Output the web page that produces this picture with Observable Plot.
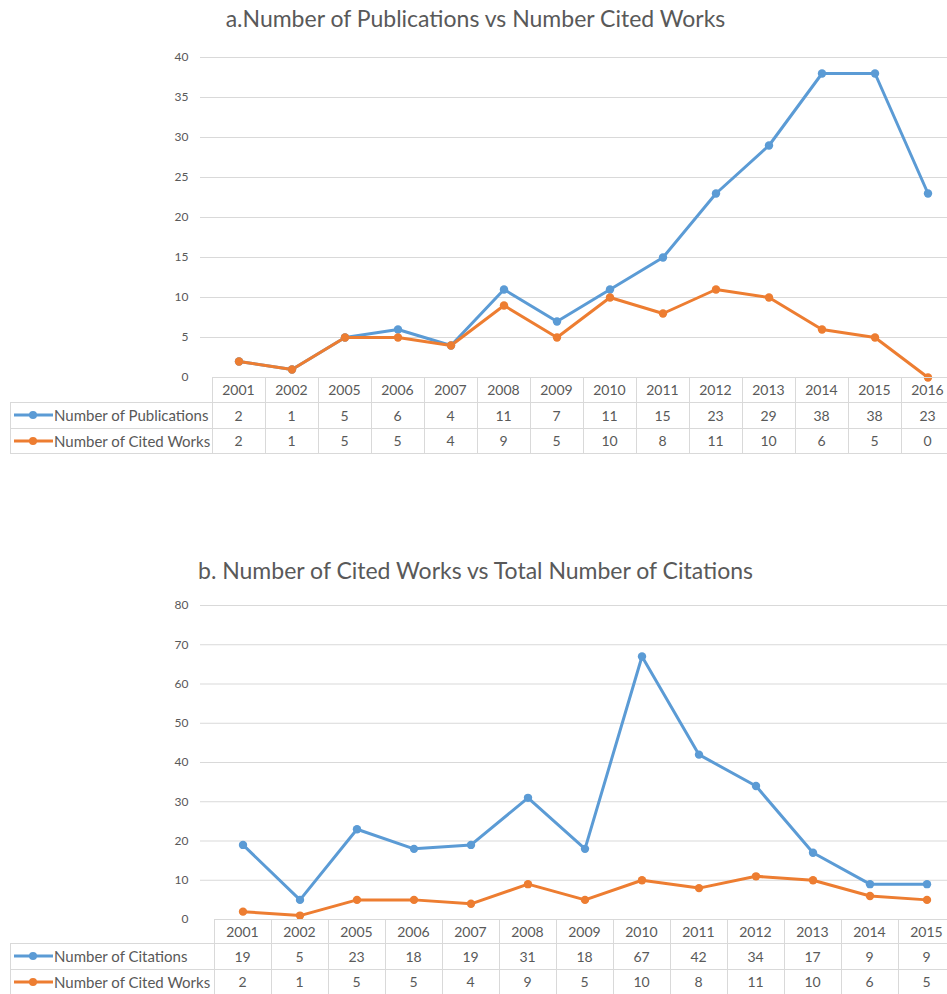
<!DOCTYPE html>
<html><head><meta charset="utf-8">
<script src="https://cdn.jsdelivr.net/npm/d3@7"></script>
<script src="https://cdn.jsdelivr.net/npm/@observablehq/plot@0.6"></script>
<style>
html,body{margin:0;padding:0;overflow:hidden;background:#fff;width:947px;height:994px}
#root{position:relative;width:947px;height:994px;font-family:Lato,"Open Sans",sans-serif;color:#595959}
.title{position:absolute;left:0;width:951px;text-align:center;font-size:23px;white-space:nowrap;line-height:26px}
.cell{position:absolute;font-size:14px;display:flex;align-items:center;justify-content:center;white-space:nowrap}
.lab{justify-content:flex-start;font-size:15px}
.hl{position:absolute;height:1px;background:#d9d9d9}
.vl{position:absolute;width:1px;background:#d9d9d9}
.chart{position:absolute;left:0}
</style></head><body><div id="root"></div><script>
// ---- data ----
const yearsA = ["2001","2002","2005","2006","2007","2008","2009","2010","2011","2012","2013","2014","2015","2016"];
const publicationsA = [2,1,5,6,4,11,7,11,15,23,29,38,38,23];
const citedWorksA = [2,1,5,5,4,9,5,10,8,11,10,6,5,0];
const yTicksA = [0,5,10,15,20,25,30,35,40];

const yearsB = ["2001","2002","2005","2006","2007","2008","2009","2010","2011","2012","2013","2014","2015"];
const citationsB = [19,5,23,18,19,31,18,67,42,34,17,9,9];
const citedWorksB = [2,1,5,5,4,9,5,10,8,11,10,6,5];
const yTicksB = [0,10,20,30,40,50,60,70,80];

const titleA = "a.Number of Publications vs Number Cited Works";
const titleB = "b. Number of Cited Works vs Total Number of Citations";
const seriesPub = "Number of Publications";
const seriesCit = "Number of Citations";
const seriesCited = "Number of Cited Works";
const BLUE = "#5b9bd5", ORANGE = "#ed7d31";

const root = document.getElementById("root");

function toRows(years, name, vals){ return years.map((y,i)=>({year:y, series:name, value:vals[i]})); }

function makeChart({top, years, series, ticks, yRange, title, titleTop, table}){
  const data = series.flatMap(s => toRows(years, s.name, s.values));
  const H = 460;
  const plot = Plot.plot({
    width: 947, height: H,
    marginLeft: 200, marginRight: 0, marginTop: yRange[1], marginBottom: H - yRange[0],
    style: {fontFamily: "Lato, 'Open Sans', sans-serif", fontSize: "12px", color: "#595959", background: "transparent", overflow: "visible"},
    x: {type: "band", domain: years, range: [table.x0, table.x0 + table.colW * years.length], padding: 0, axis: null},
    y: {domain: [ticks[0], ticks[ticks.length-1]], range: yRange},
    color: {domain: series.map(s=>s.name), range: series.map(s=>s.color)},
    marks: [
      Plot.gridY(ticks.slice(1), {stroke: "#d9d9d9", strokeOpacity: 1, strokeWidth: 1}),
      Plot.axisY(ticks, {tickSize: 0, tickPadding: 12, label: null, fill: "#595959", fontSize: 12}),
      Plot.line(data, {x: "year", y: "value", z: "series", stroke: "series", strokeWidth: 3, strokeLinejoin: "round", strokeLinecap: "round"}),
      Plot.dot(data, {x: "year", y: "value", fill: "series", r: 4.2})
    ]
  });
  const wrap = document.createElement("div");
  wrap.className = "chart";
  wrap.style.top = top + "px";
  wrap.appendChild(plot);
  root.appendChild(wrap);

  const t = document.createElement("div");
  t.className = "title"; t.style.top = titleTop + "px"; t.textContent = title;
  root.appendChild(t);

  // data table under the chart, aligned to the x scale
  const xs = plot.scale("x");
  const bw = xs.bandwidth;
  const colL = years.map(y => xs.apply(y));
  const right = colL[colL.length-1] + bw;
  const rowsY = table.rows; // [headerTop, headerBottom, row1Bottom, row2Bottom]
  const left0 = colL[0];
  const hl = (x1,x2,y)=>{const d=document.createElement("div");d.className="hl";d.style.left=x1+"px";d.style.width=(x2-x1)+"px";d.style.top=y+"px";root.appendChild(d);};
  const vl = (x,y1,y2)=>{const d=document.createElement("div");d.className="vl";d.style.left=x+"px";d.style.top=y1+"px";d.style.height=(y2-y1+1)+"px";root.appendChild(d);};
  hl(left0, right, rowsY[0]);
  for (let k=1;k<4;k++) hl(table.labelX, right, rowsY[k]);
  vl(table.labelX, rowsY[1], rowsY[3]);
  colL.forEach(x => vl(x, rowsY[0], rowsY[3]));
  vl(right, rowsY[0], rowsY[3]);
  const cell = (x,w,y1,y2,txt,cls)=>{const d=document.createElement("div");d.className="cell"+(cls?" "+cls:"");d.style.left=x+"px";d.style.width=w+"px";d.style.top=y1+"px";d.style.height=(y2-y1)+"px";d.textContent=txt;root.appendChild(d);return d;};
  years.forEach((y,i)=>cell(colL[i], bw, rowsY[0], rowsY[1], y));
  series.forEach((s,k)=>{
    const y1 = rowsY[k+1], y2 = rowsY[k+2];
    const lab = cell(table.labelX+3, left0-table.labelX-3, y1, y2, "", "lab");
    const ns = "http://www.w3.org/2000/svg";
    const sv = document.createElementNS(ns,"svg"); sv.setAttribute("width","41"); sv.setAttribute("height","10");
    const ln = document.createElementNS(ns,"line"); ln.setAttribute("x1","1");ln.setAttribute("x2","40");ln.setAttribute("y1","5");ln.setAttribute("y2","5");ln.setAttribute("stroke",s.color);ln.setAttribute("stroke-width","3");
    const c = document.createElementNS(ns,"circle"); c.setAttribute("cx","20");c.setAttribute("cy","5");c.setAttribute("r","4");c.setAttribute("fill",s.color);
    sv.appendChild(ln); sv.appendChild(c); lab.appendChild(sv);
    const sp = document.createElement("span"); sp.textContent = s.name; lab.appendChild(sp);
    s.values.forEach((v,i)=>cell(colL[i], bw, y1, y2, String(v)));
  });
}

makeChart({
  top: 0, years: yearsA, ticks: yTicksA, yRange: [377, 57],
  title: titleA, titleTop: 5,
  series: [{name: seriesPub, values: publicationsA, color: BLUE},{name: seriesCited, values: citedWorksA, color: ORANGE}],
  table: {x0: 211.5, colW: 53, labelX: 10, rows: [377, 402, 428, 453]}
});
makeChart({
  top: 540, years: yearsB, ticks: yTicksB, yRange: [379, 65],
  title: titleB, titleTop: 557,
  series: [{name: seriesCit, values: citationsB, color: BLUE},{name: seriesCited, values: citedWorksB, color: ORANGE}],
  table: {x0: 213.5, colW: 57.08, labelX: 10, rows: [919, 943, 969, 994]}
});
</script></body></html>
